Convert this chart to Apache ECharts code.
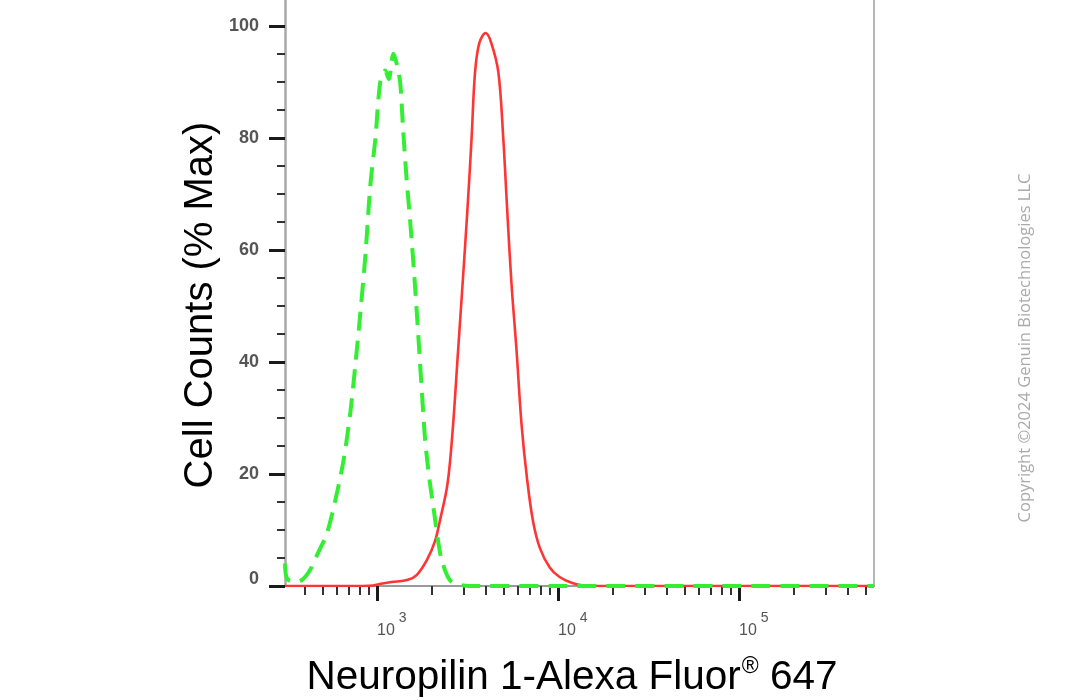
<!DOCTYPE html>
<html>
<head>
<meta charset="utf-8">
<script src="https://cdn.jsdelivr.net/npm/echarts@6/dist/echarts.min.js"></script>
<style>
html,body{margin:0;padding:0;background:#fff;}
#c{width:1080px;height:700px;}
</style>
</head>
<body>
<div id="c"></div>
<script>
// ---- data ----
const xMajorTicks = [1000, 10000, 100000];
const xMinorTicks = [400, 500, 600, 700, 800, 900,
  2000, 3000, 4000, 5000, 6000, 7000, 8000, 9000,
  20000, 30000, 40000, 50000, 60000, 70000, 80000, 90000,
  200000, 300000, 400000, 500000];
const yMajorTicks = [0, 20, 40, 60, 80, 100];
const yMinorTicks = [5, 10, 15, 25, 30, 35, 45, 50, 55, 65, 70, 75, 85, 90, 95];

const redX = [310, 700, 950, 1050, 1200, 1480, 1660, 1890, 2090, 2230, 2450, 2620, 2790, 2970, 3155, 3330, 3475, 3670, 3980, 4270, 4680, 4980, 5240, 5530, 5900, 6280, 6750, 7280, 7930, 9000, 10200, 12100, 14900, 30000, 100000, 557000];
const redY = [0, 0, 0.1, 0.4, 0.7, 1.1, 2.0, 4.7, 8.0, 11.8, 18.2, 28, 41, 54, 67, 80, 91.5, 96.9, 98.7, 97, 91.7, 80, 67, 54, 42, 29, 19, 11.5, 6.8, 3.3, 1.6, 0.5, 0, 0, 0, 0];

const greenX = [310, 320, 366, 416, 472, 530, 603, 656, 713, 760, 809, 863, 918, 980, 1042, 1110, 1160, 1230, 1290, 1343, 1390, 1450, 1525, 1607, 1694, 1770, 1845, 1950, 2070, 2180, 2280, 2535, 3000, 3550, 10000, 100000, 557000];
const greenY = [4.0, 1.2, 0.8, 2.3, 5.9, 9.5, 16.9, 22.8, 31.2, 39.7, 48.8, 59.2, 71.5, 80, 90, 92, 90.5, 95, 93, 89.8, 82, 73.5, 65, 55.3, 44.2, 34.5, 26, 18.9, 13, 7.8, 4.6, 1.0, 0.1, 0, 0, 0, 0];

const xTitle = 'Neuropilin 1-Alexa Fluor';
const xTitleSup = '\u00AE';
const xTitleEnd = ' 647';
const yTitle = 'Cell Counts (% Max)';
const watermark = 'Copyright \u00A92024 Genuin Biotechnologies LLC';

const X_MIN = 310, X_MAX = 557000, Y_MIN = 0, Y_MAX = 104.6;

const zip = (xs, ys) => xs.map((x, i) => [x, ys[i]]);

const chart = echarts.init(document.getElementById('c'), null, {renderer: 'canvas'});
const FONT = '"Liberation Sans", Arial, Helvetica, sans-serif';

const option = {
  animation: false,
  backgroundColor: '#ffffff',
  grid: {left: 285, right: 206, top: 0, bottom: 114, containLabel: false},
  xAxis: [
    {
      type: 'log', logBase: 10, min: X_MIN, max: X_MAX, position: 'bottom',
      axisLine: {show: true, lineStyle: {color: '#9a9a9a', width: 2}},
      axisTick: {show: true, customValues: xMajorTicks, length: 15, lineStyle: {color: '#1a1a1a', width: 3}},
      axisLabel: {
        show: true, customValues: xMajorTicks, align: 'left', margin: 25,
        formatter: v => '{b|10}{s|' + Math.round(Math.log10(v)) + '}',
        rich: {
          b: {fontSize: 16, fontFamily: FONT, color: '#555'},
          s: {fontSize: 14, fontFamily: FONT, color: '#555', padding: [0, 0, 25, 4]}
        }
      },
      splitLine: {show: false}, minorTick: {show: false}
    },
    {
      type: 'log', logBase: 10, min: X_MIN, max: X_MAX, position: 'bottom',
      axisLine: {show: false},
      axisTick: {show: true, customValues: xMinorTicks, length: 9, lineStyle: {color: '#333', width: 2}},
      axisLabel: {show: false},
      splitLine: {show: false}
    }
  ],
  yAxis: [
    {
      type: 'value', min: Y_MIN, max: Y_MAX, position: 'left',
      axisLine: {show: true, lineStyle: {color: '#a8a8a8', width: 2.5}},
      axisTick: {show: true, customValues: yMajorTicks, length: 16, lineStyle: {color: '#1a1a1a', width: 3}},
      axisLabel: {
        show: true, customValues: yMajorTicks, margin: 26,
        fontSize: 18, fontWeight: 'bold', fontFamily: FONT, color: '#555',
        formatter: v => v === 0 ? '{z|0}' : String(v),
        rich: {z: {fontSize: 18, fontWeight: 'bold', fontFamily: FONT, color: '#555', padding: [0, 0, 14, 0]}}
      },
      splitLine: {show: false}
    },
    {
      type: 'value', min: Y_MIN, max: Y_MAX, position: 'left',
      axisLine: {show: false},
      axisTick: {show: true, customValues: yMinorTicks, length: 8, lineStyle: {color: '#333', width: 2}},
      axisLabel: {show: false},
      splitLine: {show: false}
    },
    {
      type: 'value', min: Y_MIN, max: Y_MAX, position: 'right',
      axisLine: {show: true, lineStyle: {color: '#b5b5b5', width: 2}},
      axisTick: {show: false}, axisLabel: {show: false}, splitLine: {show: false}
    }
  ],
  series: [
    {
      type: 'line', name: 'Neuropilin 1', xAxisIndex: 0, yAxisIndex: 0,
      data: zip(redX, redY), smooth: 0.35, symbol: 'none',
      lineStyle: {color: '#ff3535', width: 2.6}, z: 3
    },
    {
      type: 'line', name: 'Isotype', xAxisIndex: 0, yAxisIndex: 0,
      data: zip(greenX, greenY), smooth: 0.3, symbol: 'none',
      lineStyle: {color: '#33ee33', width: 4, type: [19, 10]}, z: 4
    }
  ],
  graphic: [
    {
      type: 'text', x: 201, y: 305, rotation: Math.PI / 2,
      style: {text: yTitle, fontSize: 40, fontFamily: FONT, fill: '#000', align: 'center', verticalAlign: 'middle'}
    },
    {
      type: 'text', x: 572, y: 678,
      style: {
        text: '{t|' + xTitle + '}{r|' + xTitleSup + '}{t|' + xTitleEnd + '}',
        align: 'center', verticalAlign: 'middle',
        rich: {
          t: {fontSize: 40.5, fontFamily: FONT, fill: '#000'},
          r: {fontSize: 23, fontFamily: FONT, fill: '#000', padding: [0, 0, 22, 1]}
        }
      }
    },
    {
      type: 'text', x: 1025, y: 348, rotation: Math.PI / 2,
      style: {text: watermark, fontSize: 16.5, fontFamily: '"Open Sans", sans-serif', fill: '#aaaaaa', align: 'center', verticalAlign: 'middle'}
    }
  ]
};
chart.setOption(option);
</script>
</body>
</html>
